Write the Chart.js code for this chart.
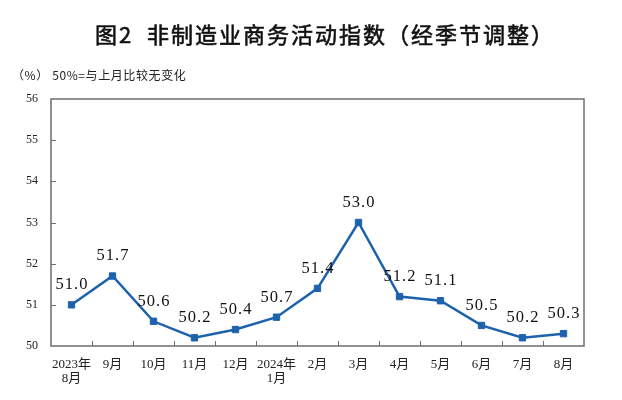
<!DOCTYPE html>
<html>
<head>
<meta charset="utf-8">
<script src="https://cdn.jsdelivr.net/npm/chart.js@4"></script>
<style>
  html, body { margin: 0; padding: 0; background: #fff; }
  #wrap { width: 622px; height: 400px; }
</style>
</head>
<body>
<div id="wrap"><canvas id="pmiChart" width="622" height="400"></canvas></div>
<script>
// ── data ───────────────────────────────────────────────
const months = [
    ['2023年', '8月'], '9月', '10月', '11月', '12月', ['2024年', '1月'],
    '2月', '3月', '4月', '5月', '6月', '7月', '8月',
];
const indexValues = [51.0, 51.7, 50.6, 50.2, 50.4, 50.7, 51.4, 53.0, 51.2, 51.1, 50.5, 50.2, 50.3];
const yTicks      = [50, 51, 52, 53, 54, 55, 56];

const titleText = '图2  非制造业商务活动指数（经季节调整）';
const unitText  = '（%） 50%=与上月比较无变化';

const SERIF = "'Liberation Serif', 'Noto Sans CJK SC', serif";
const LINE_COLOR = '#1f62ac';

// titles, frame with inward ticks, value labels
const decorPlugin = {
    id: 'decor',
    beforeDraw(chart) {
        const { ctx } = chart;
        ctx.save();
        ctx.fillStyle = '#111';
        ctx.strokeStyle = '#111';
        ctx.textBaseline = 'middle';
        ctx.textAlign = 'left';
        ctx.font = "22px 'Noto Sans CJK SC'";
        ctx.letterSpacing = '2px';
        ctx.fillText(titleText, 95, 35);
        ctx.lineWidth = 0.6;   // a bit heavier than regular, lighter than bold
        ctx.strokeText(titleText, 95, 35);
        ctx.font = "12px 'Noto Sans CJK SC'";
        ctx.letterSpacing = '0.6px';
        ctx.fillStyle = '#222';
        ctx.fillText(unitText, 12, 75);
        ctx.restore();
    },
    afterDatasetsDraw(chart) {
        const { ctx, chartArea: a, scales: { x, y } } = chart;
        ctx.save();
        ctx.strokeStyle = '#6e6e6e';
        ctx.lineWidth = 1.5;
        ctx.strokeRect(a.left, a.top, a.right - a.left, a.bottom - a.top);

        ctx.beginPath();
        for (let i = 0; i < months.length - 1; i++) {
            const px = Math.round(x.getPixelForValue(i + 0.5)) + 0.5;
            ctx.moveTo(px, a.bottom);
            ctx.lineTo(px, a.bottom - 5);
        }
        yTicks.slice(1, -1).forEach(v => {
            const py = Math.round(y.getPixelForValue(v)) + 0.5;
            ctx.moveTo(a.left, py);
            ctx.lineTo(a.left + 5, py);
        });
        ctx.lineWidth = 1;
        ctx.stroke();

        ctx.fillStyle = '#111';
        ctx.font = '16.5px ' + SERIF;
        ctx.letterSpacing = '1px';
        ctx.textAlign = 'center';
        ctx.textBaseline = 'middle';
        chart.getDatasetMeta(0).data.forEach((pt, i) => {
            ctx.fillText(indexValues[i].toFixed(1), pt.x + 0.5, pt.y - 20);
        });
        ctx.restore();
    },
};

new Chart(document.getElementById('pmiChart'), {
    type: 'line',
    data: {
        labels: months,
        datasets: [{
            data: indexValues,
            borderColor: LINE_COLOR, backgroundColor: LINE_COLOR,
            borderWidth: 2.5, tension: 0,
            pointStyle: 'rect', pointRadius: 4.5, pointBorderWidth: 1,
            pointBackgroundColor: LINE_COLOR, pointBorderColor: LINE_COLOR,
        }],
    },
    options: {
        responsive: false,
        animation: false,
        layout: { padding: { top: 99, right: 38, left: 0, bottom: 0 } },
        plugins: { legend: { display: false }, tooltip: { enabled: false } },
        scales: {
            x: {
                offset: true,
                grid: { display: false, drawTicks: false },
                border: { display: false },
                ticks: { padding: 11, color: '#222', font: { family: SERIF, size: 13, lineHeight: 1.1 }, maxRotation: 0, autoSkip: false },
                afterFit(s) { s.height = 54; },
            },
            y: {
                min: 50, max: 56,
                afterBuildTicks(s) { s.ticks = yTicks.map(v => ({ value: v })); },
                grid: { display: false, drawTicks: false },
                border: { display: false },
                ticks: { padding: 13, color: '#222', font: { family: SERIF, size: 12 } },
                afterFit(s) { s.width = 51; },
            },
        },
    },
    plugins: [decorPlugin],
});
</script>
</body>
</html>
